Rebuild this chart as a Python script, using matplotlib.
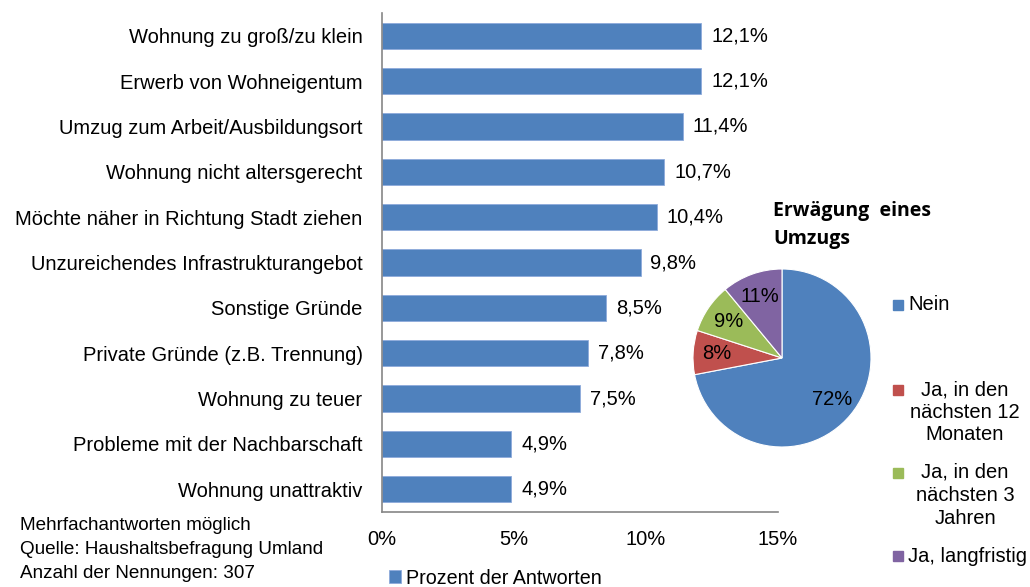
import matplotlib.pyplot as plt
from matplotlib.patches import Rectangle

plt.rcParams['font.family'] = ['Liberation Sans', 'DejaVu Sans']

# Umzugsgründe (Prozent der Antworten)
gruende = [
    "Wohnung zu groß/zu klein",
    "Erwerb von Wohneigentum",
    "Umzug zum Arbeit/Ausbildungsort",
    "Wohnung nicht altersgerecht",
    "Möchte näher in Richtung Stadt ziehen",
    "Unzureichendes Infrastrukturangebot",
    "Sonstige Gründe",
    "Private Gründe (z.B. Trennung)",
    "Wohnung zu teuer",
    "Probleme mit der Nachbarschaft",
    "Wohnung unattraktiv",
]
anteile = [12.1, 12.1, 11.4, 10.7, 10.4, 9.8, 8.5, 7.8, 7.5, 4.9, 4.9]
x_ticks = [0, 5, 10, 15]

# Erwägung eines Umzugs
pie_labels = ["Nein", "Ja, in den\nnächsten 12\nMonaten",
              "Ja, in den\nnächsten 3\nJahren", "Ja, langfristig"]
pie_values = [72, 8, 9, 11]
pie_colors = ["#4F81BD", "#C0504D", "#9BBB59", "#8064A2"]

FS = 14.5
W, H = 1030, 587
fig = plt.figure(figsize=(W / 100, H / 100), dpi=100)

def fx(px):
    return px / W

def fy(py):
    return 1 - py / H

# --- bar chart ---
ax = fig.add_axes([fx(382), fy(512), fx(778) - fx(382), fy(13) - fy(512)])
ypos = list(range(len(gruende)))
bars = ax.barh(ypos, anteile, height=0.58, color="#4F81BD",
               edgecolor="#8EAADB", linewidth=0.6, label="Prozent der Antworten")
ax.set_ylim(len(gruende) - 0.5, -0.5)
ax.set_xlim(0, 15)
ax.set_yticks(ypos)
ax.set_yticklabels(gruende, fontsize=FS)
ax.set_xticks(x_ticks)
ax.set_xticklabels([f"{t}%" for t in x_ticks], fontsize=FS)
ax.tick_params(axis="y", length=0, pad=14)
ax.tick_params(axis="x", length=0, pad=13)
for s in ["top", "right"]:
    ax.spines[s].set_visible(False)
for s in ["left", "bottom"]:
    ax.spines[s].set_color("#868686")
    ax.spines[s].set_linewidth(1.2)

for b, v in zip(bars, anteile):
    ax.annotate(f"{v:.1f}%".replace(".", ","),
                (b.get_width(), b.get_y() + b.get_height() / 2),
                xytext=(7, 0), textcoords="offset points",
                va="center", ha="left", fontsize=FS)

fig.legend(handles=[bars], loc="center left", frameon=False, fontsize=14.2,
           bbox_to_anchor=(fx(371), fy(578)), handlelength=0.6,
           handleheight=0.6, handletextpad=0.3)

# --- notes ---
notes = ["Mehrfachantworten möglich", "Quelle: Haushaltsbefragung Umland",
         "Anzahl der Nennungen: 307"]
for i, t in enumerate(notes):
    fig.text(fx(20), fy(526 + 23.5 * i), t, fontsize=13.6, va="center",
             ha="left")

# --- pie ---
r = 89
pax = fig.add_axes([fx(782 - r), fy(358 + r), fx(2 * r), 2 * r / H])
pax.pie(pie_values, colors=pie_colors, startangle=90, counterclock=False,
        autopct="%d%%", pctdistance=0.73,
        wedgeprops=dict(edgecolor="white", linewidth=0.8),
        textprops=dict(fontsize=FS))
pax.set_xlim(-1, 1)
pax.set_ylim(-1, 1)
pax.axis("off")

fig.text(fx(773), fy(211), "Erwägung  eines", fontsize=14, fontweight="bold",
         va="center", ha="left", family=["Open Sans", "DejaVu Sans"])
fig.text(fx(773), fy(239), "Umzugs", fontsize=14, fontweight="bold",
         va="center", ha="left", family=["Open Sans", "DejaVu Sans"])

# pie legend
leg_y = [305, 390, 473, 556]
for lab, col, y in zip(pie_labels, pie_colors, leg_y):
    fig.add_artist(Rectangle((fx(893), fy(y + 5)), fx(10), 10 / H,
                             transform=fig.transFigure, color=col))
    if "\n" in lab:
        fig.text(fx(965), fy(y - 10), lab, fontsize=FS, ha="center", va="top",
                 multialignment="center", linespacing=1.25)
    else:
        fig.text(fx(908), fy(y), lab, fontsize=FS, ha="left", va="center")

fig.savefig("out.png", dpi=100)
